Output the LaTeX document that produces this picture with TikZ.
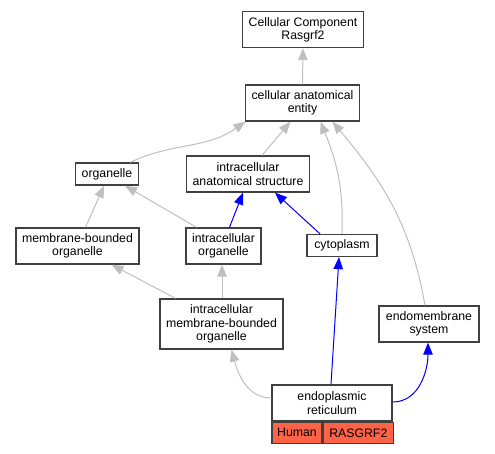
\documentclass[tikz,border=0pt]{standalone}
\usepackage{fontspec}
\setmainfont{Liberation Sans}
\usetikzlibrary{arrows.meta}
\usetikzlibrary{positioning}
\usetikzlibrary{math}
\definecolor{tomato}{RGB}{255,99,71}

\tikzset{
  term/.style={draw=black!75, line width=1.3pt, rectangle, align=center, fill=white,
               inner xsep=6pt, inner ysep=0pt, font=\fontsize{12.3}{13.3}\selectfont},
  oneline/.style={term, minimum height=22pt},
  twoline/.style={term, minimum height=36pt},
  threeline/.style={term, minimum height=50pt},
  genebox/.style={term, fill=tomato, minimum height=21pt, inner xsep=0pt},
  isa/.style={draw=black!25, line width=1pt, -{Triangle[length=12pt,width=9.5pt]}},
  partof/.style={draw=blue, line width=1pt, -{Triangle[length=12pt,width=9.5pt]}}
}

\begin{document}
\begin{tikzpicture}[x=1pt,y=-1pt]
    \tikzmath{  \ya = 29.5 ;
                \yb = 103 ;
                \yc = 174 ;
                \yd = 246 ;
                \ye = 324 ;
                \yf = 403 ;
                }
    \useasboundingbox (0,0) rectangle (495,453);

    \node[twoline] (cellcomp) at (303,\ya) {Cellular Component\\Rasgrf2};
    \node[twoline] (cae) at (302.5,\yb) {cellular anatomical\\entity};
    \node[oneline] (orgnl) at (107,\yc) {organelle};
    \node[twoline] (ias) at (248,\yc) {intracellular\\anatomical structure};
    \node[twoline] (mbo) at (77.5,\yd) {membrane-bounded\\organelle};
    \node[twoline] (intorg) at (223.5,\yd) {intracellular\\organelle};
    \node[oneline,minimum width=70pt] (cyto) at (342,\yd-0.5) {cytoplasm};
    \node[threeline] (imbo) at (221.5,\ye) {intracellular\\membrane-bounded\\organelle};
    \node[twoline,minimum width=100pt] (endo) at (429,\ye) {endomembrane\\system};
    \node[twoline,minimum width=120pt] (er) at (332,\yf) {endoplasmic\\reticulum};
    \node[genebox,minimum width=50pt,below right=0pt and 0pt of er.south west] (human) {Human};
    \node[genebox,minimum width=70pt,right=0pt of human] (rasgrf) {RASGRF2};

    \draw[isa] (cae.north) -- (cellcomp.south);
    \draw[isa] ([xshift=23pt]orgnl.north) to[out=25,in=-145] ([xshift=-57pt]cae.south);
    \draw[isa] ([xshift=14pt]ias.north) -- ([xshift=-12pt]cae.south);
    \draw[isa] (cyto.north) to[out=88,in=-68] ([xshift=18pt]cae.south);
    \draw[isa] ([xshift=-4pt]endo.north) to[out=100,in=-50] ([xshift=30pt]cae.south);
    \draw[isa] ([xshift=8pt]mbo.north) -- ([xshift=-3pt]orgnl.south);
    \draw[isa] ([xshift=-27pt]intorg.north) -- ([xshift=18pt]orgnl.south);
    \draw[partof] ([xshift=6pt]intorg.north) -- ([xshift=-5pt]ias.south);
    \draw[partof] ([xshift=-22pt]cyto.north) -- ([xshift=27pt]ias.south);
    \draw[isa] ([xshift=-46pt]imbo.north) -- ([xshift=34pt]mbo.south);
    \draw[isa] ([xshift=0.5pt]imbo.north) -- ([xshift=-1.5pt]intorg.south);
    \draw[isa] ([yshift=5pt]er.west) to[out=180,in=-75] ([xshift=10pt]imbo.south);
    \draw[partof] ([xshift=-1pt]er.north) -- ([xshift=-3pt]cyto.south);
    \draw[partof] ([yshift=1pt]er.east) to[out=0,in=-90] ([xshift=-1pt]endo.south);
\end{tikzpicture}
\end{document}
